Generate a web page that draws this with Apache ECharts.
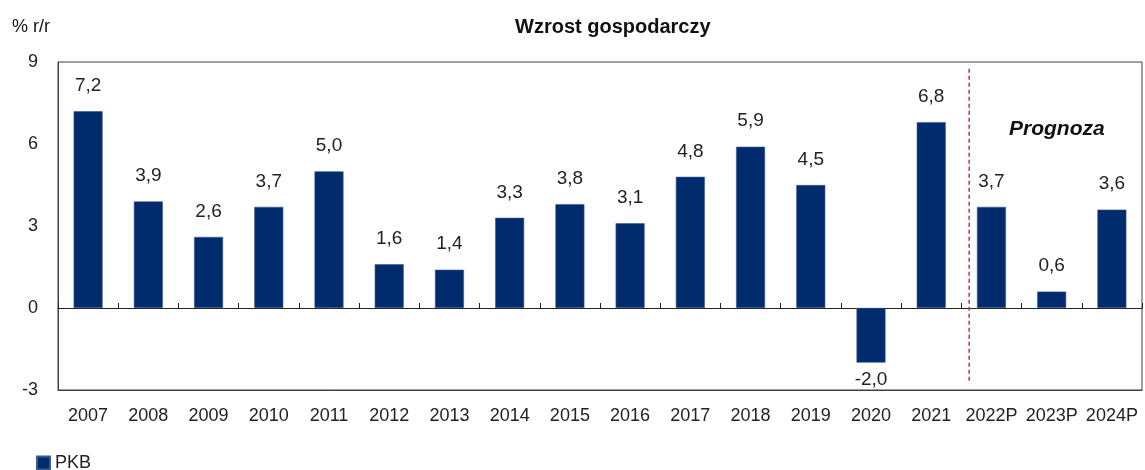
<!DOCTYPE html>
<html>
<head>
<meta charset="utf-8">
<script src="https://cdn.jsdelivr.net/npm/echarts@6/dist/echarts.min.js"></script>
<style>html,body{margin:0;padding:0;background:#fff}#c{width:1145px;height:470px}</style>
</head>
<body>
<div id="c"></div>
<script>
const categories = ['2007','2008','2009','2010','2011','2012','2013','2014','2015','2016','2017','2018','2019','2020','2021','2022P','2023P','2024P'];
const pkb = [7.2, 3.9, 2.6, 3.7, 5.0, 1.6, 1.4, 3.3, 3.8, 3.1, 4.8, 5.9, 4.5, -2.0, 6.8, 3.7, 0.6, 3.6];
const yTicks = [-3, 0, 3, 6, 9];
const forecastLine = [[14.63, 8.75], [14.63, -2.75]];

const chart = echarts.init(document.getElementById('c'));
const font = 'Liberation Sans, Arial, sans-serif';
const fmt = v => v.toFixed(1).replace('.', ',');

chart.setOption({
  animation: false,
  textStyle: { fontFamily: font },
  grid: { left: 58, right: 3, top: 62, bottom: 80, show: true, borderColor: '#404040', borderWidth: 1 },
  title: [
    { text: 'Wzrost gospodarczy', left: 515, top: 17, padding: 0, textStyle: { fontSize: 20, fontWeight: 'bold', color: '#111', fontFamily: font } },
    { text: '% r/r', left: 12, top: 18, padding: 0, textStyle: { fontSize: 18, fontWeight: 'normal', color: '#111', fontFamily: font } },
    { text: 'Prognoza', left: 1009, top: 119, padding: 0, textStyle: { fontSize: 21, fontWeight: 'bold', fontStyle: 'italic', color: '#111', fontFamily: font } }
  ],
  legend: {
    left: 36, top: 454, padding: 0, itemWidth: 13, itemHeight: 13, itemGap: 10,
    icon: 'rect',
    textStyle: { fontSize: 18, color: '#222', fontFamily: font },
    data: ['PKB']
  },
  xAxis: [
    {
      type: 'category', data: categories, position: 'bottom',
      axisLine: { show: true, onZero: false, lineStyle: { color: '#404040' } },
      axisTick: { show: false },
      axisLabel: { fontSize: 18, color: '#222', margin: 17, interval: 0 }
    },
    {
      type: 'category', data: categories, position: 'bottom',
      axisLine: { show: true, onZero: true, lineStyle: { color: '#222' } },
      axisTick: { show: true, inside: true, length: 5, lineStyle: { color: '#222' } },
      axisLabel: { show: false }
    },
    {
      type: 'value', min: -0.5, max: categories.length - 0.5, show: false
    }
  ],
  yAxis: {
    type: 'value', min: yTicks[0], max: yTicks[yTicks.length - 1], interval: 3,
    axisLine: { show: true, onZero: false, lineStyle: { color: '#404040' } },
    axisTick: { show: false },
    splitLine: { show: false },
    axisLabel: { fontSize: 18, color: '#222', margin: 20 }
  },
  series: [
    {
      name: 'PKB', type: 'bar', xAxisIndex: 0, barWidth: 29,
      itemStyle: { color: '#002C6E', borderColor: '#3a5a92', borderWidth: 0.6 },
      data: pkb.map(v => ({
        value: v,
        label: v < 0 ? { position: 'bottom', distance: 8 } : { position: 'top', distance: 16 }
      })),
      label: { show: true, fontSize: 19, color: '#222', formatter: p => fmt(p.value) }
    },
    {
      name: 'split', type: 'line', xAxisIndex: 2, data: forecastLine,
      symbol: 'none', silent: true,
      lineStyle: { color: '#e0262b', type: [4, 3], width: 1.5 }
    }
  ]
});
</script>
</body>
</html>
